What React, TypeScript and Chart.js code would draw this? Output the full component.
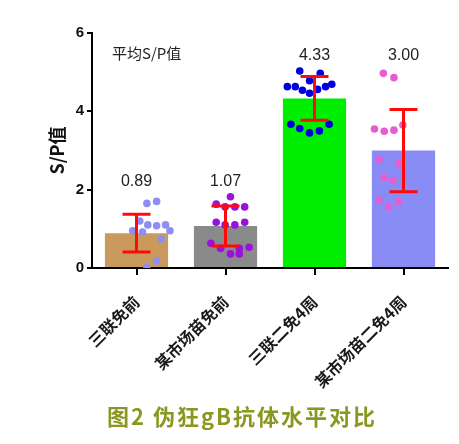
import React, { useEffect, useRef } from 'react';
import { Chart, registerables } from 'chart.js';

Chart.register(...registerables);

// ---- data ----
const categories = ['三联免前', '某市场苗免前', '三联二免4周', '某市场苗二免4周'];
const means = [0.89, 1.07, 4.33, 3.0];
const sds = [0.48, 0.51, 0.56, 1.05];
const meanLabels = ['0.89', '1.07', '4.33', '3.00'];
const yTickValues = [0, 2, 4, 6];

// individual sample values and their horizontal jitter (fraction of a category width)
const g1Values = [1.65, 1.7, 1.2, 1.1, 1.08, 1.1, 0.95, 0.92, 0.95, 0.74, 0.18, 0.02];
const g1Jitter = [-0.056, 0.067, -0.146, -0.045, 0.067, 0.18, -0.236, -0.112, 0.236, 0.124, 0.067, -0.056];
const g2Values = [1.82, 1.63, 1.56, 1.56, 1.56, 1.17, 1.1, 1.1, 1.17, 0.63, 0.5, 0.5, 0.53, 0.36, 0.36];
const g2Jitter = [0, -0.18, -0.067, 0.056, 0.18, -0.18, -0.067, 0.056, 0.18, -0.247, -0.124, 0.112, 0.236, 0, 0.112];
const g3Values = [5.03, 4.97, 4.78, 4.63, 4.63, 4.54, 4.46, 4.56, 4.63, 4.69, 3.67, 3.56, 3.45, 3.5, 3.67];
const g3Jitter = [-0.124, 0.135, 0, -0.281, -0.18, -0.09, 0, 0.101, 0.202, 0.281, -0.236, -0.124, 0, 0.124, 0.247];
const g4Values = [4.97, 4.86, 3.55, 3.49, 3.52, 3.65, 2.77, 2.67, 2.31, 2.24, 1.73, 1.69, 1.56];
const g4Jitter = [-0.067, 0.067, -0.18, -0.056, 0.067, 0.18, -0.124, 0.124, -0.056, 0.056, -0.124, 0.124, 0];

const groupValues = [g1Values, g2Values, g3Values, g4Values];
const groupJitter = [g1Jitter, g2Jitter, g3Jitter, g4Jitter];

const barColors = ['#c99a5c', '#8a8a8a', '#00ee00', '#8a8cf6'];
const dotColors = ['#8e8ef2', '#9a10dc', '#0000dc', '#e85cd2'];

const figureTitle = '图2 伪狂gB抗体水平对比';
const innerNote = '平均S/P值';

const overlayPlugin = {
  id: 'overlay',
  afterDatasetsDraw(chart: any) {
    const ctx = chart.ctx as CanvasRenderingContext2D;
    const xs = chart.scales.x;
    const ys = chart.scales.y;
    ctx.save();
    // error bars (mean ± SD)
    ctx.strokeStyle = '#ff0a0a';
    ctx.lineWidth = 3;
    means.forEach((m, i) => {
      const cx = xs.getPixelForValue(i);
      const yt = ys.getPixelForValue(m + sds[i]);
      const yb = ys.getPixelForValue(m - sds[i]);
      ctx.beginPath();
      ctx.moveTo(cx, yt);
      ctx.lineTo(cx, yb);
      ctx.moveTo(cx - 14, yt);
      ctx.lineTo(cx + 14, yt);
      ctx.moveTo(cx - 14, yb);
      ctx.lineTo(cx + 14, yb);
      ctx.stroke();
    });
    // mean labels above each pair of groups
    ctx.fillStyle = '#222';
    ctx.font = '16px "Liberation Sans", Arial, sans-serif';
    ctx.textAlign = 'center';
    ctx.textBaseline = 'middle';
    means.forEach((_, i) => {
      const pair = Math.floor(i / 2) * 2;
      const top = Math.max(...groupValues[pair], ...groupValues[pair + 1]);
      const cx = xs.getPixelForValue(i);
      ctx.fillText(meanLabels[i], cx, ys.getPixelForValue(top) - 15);
    });
    // note inside the plot
    ctx.textAlign = 'left';
    ctx.font = '15px "Noto Sans CJK SC", sans-serif';
    ctx.fillText(innerNote, chart.chartArea.left + 20, chart.chartArea.top + 20);
    ctx.restore();
  },
  afterDraw(chart: any) {
    const ctx = chart.ctx as CanvasRenderingContext2D;
    ctx.save();
    ctx.fillStyle = '#8a9822';
    ctx.font = 'bold 22px "Noto Sans CJK SC", sans-serif';
    (ctx as any).letterSpacing = '2px';
    ctx.textAlign = 'center';
    ctx.textBaseline = 'middle';
    ctx.fillText(figureTitle, 242, 417);
    ctx.restore();
  },
};

export default function App() {
  const ref = useRef<HTMLCanvasElement | null>(null);
  useEffect(() => {
    if (!ref.current) return;
    const scatterSets = groupValues.map((vals, gi) => ({
      type: 'scatter' as const,
      xAxisID: 'x2',
      yAxisID: 'y',
      order: 0,
      data: vals.map((v, k) => ({ x: gi + groupJitter[gi][k], y: v })),
      backgroundColor: dotColors[gi],
      borderWidth: 0,
      pointRadius: 3.8,
    }));
    const chart = new Chart(ref.current, {
      type: 'bar',
      data: {
        labels: categories,
        datasets: [
          {
            type: 'bar',
            order: 10,
            data: means,
            backgroundColor: barColors,
            borderWidth: 0,
            barPercentage: 0.71,
            categoryPercentage: 1,
            grouped: false,
            xAxisID: 'x',
            yAxisID: 'y',
          } as any,
          ...(scatterSets as any),
        ],
      },
      options: {
        responsive: false,
        animation: false,
        layout: { padding: { top: 33, right: 11, left: 0, bottom: 0 } },
        plugins: { legend: { display: false }, tooltip: { enabled: false }, title: { display: false } },
        scales: {
          x: {
            type: 'category',
            offset: true,
            grid: { display: true, drawOnChartArea: false, offset: false, tickLength: 7, color: '#000', lineWidth: 2 },
            border: { display: true, color: '#000', width: 2 },
            ticks: {
              autoSkip: false,
              minRotation: 45,
              maxRotation: 45,
              padding: 17,
              color: '#1a1a1a',
              font: { family: '"Noto Sans CJK SC", sans-serif', size: 16, weight: 'bold' },
            },
            afterFit: (s: any) => { s.height = 176; },
          },
          x2: { type: 'linear', display: false, min: -0.5, max: 3.5 },
          y: {
            min: 0,
            max: 6,
            afterBuildTicks: (s: any) => { s.ticks = yTickValues.map((v) => ({ value: v })); },
            grid: { display: true, drawOnChartArea: false, tickLength: 5, color: '#000', lineWidth: 2 },
            border: { display: true, color: '#000', width: 2 },
            ticks: {
              padding: 3,
              color: '#111',
              font: { family: '"Liberation Sans", Arial, sans-serif', size: 15, weight: 'bold' },
            },
            title: {
              display: true,
              text: 'S/P值',
              color: '#111',
              padding: { top: 46, bottom: 0 },
              font: { family: '"Noto Sans CJK SC", sans-serif', size: 18, weight: 'bold' },
            },
            afterFit: (s: any) => { s.width = 92; },
          },
        },
      } as any,
      plugins: [overlayPlugin],
    });
    return () => chart.destroy();
  }, []);
  return (
    <div style={{ position: 'absolute', left: 0, top: 0, width: 459, height: 444, background: '#fff' }}>
      <canvas ref={ref} width={459} height={444} />
    </div>
  );
}
